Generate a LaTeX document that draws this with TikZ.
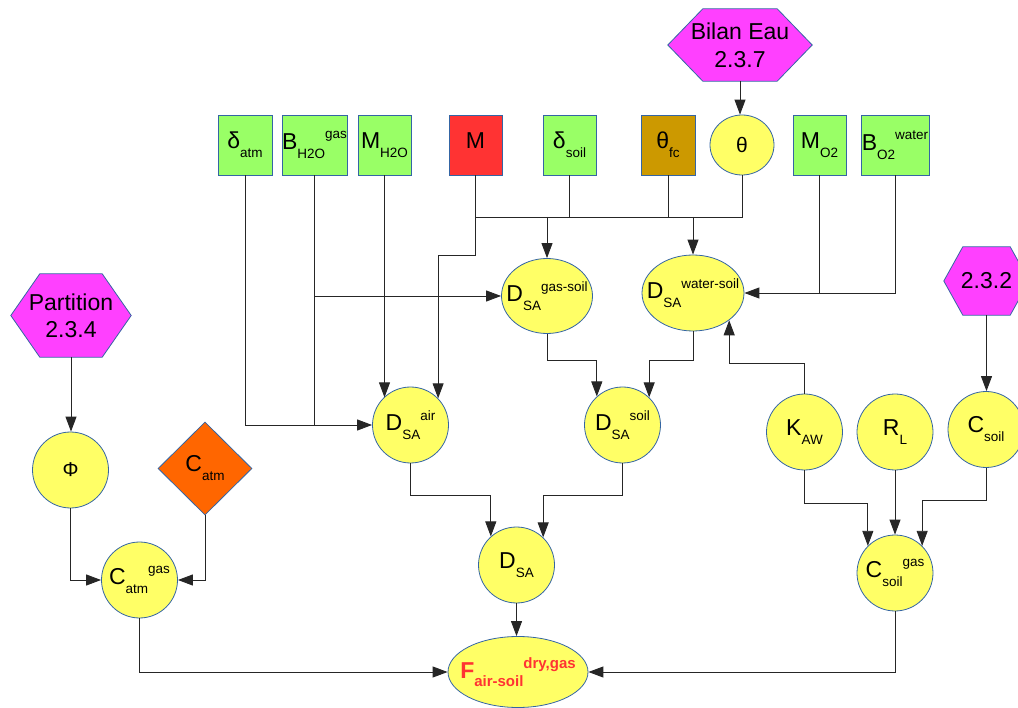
\documentclass[tikz,border=0pt]{standalone}
\usepackage{fontspec}
\setmainfont{Liberation Sans}
\usetikzlibrary{arrows.meta,shapes.geometric,backgrounds,calc}
\definecolor{cgreen}{HTML}{99FF66}
\definecolor{cred}{HTML}{FF3333}
\definecolor{cfc}{HTML}{CC9900}
\definecolor{cyellow}{HTML}{FFFF66}
\definecolor{cmag}{HTML}{FF40FF}
\definecolor{corange}{HTML}{FF6600}
\definecolor{cborder}{HTML}{3465A4}
\definecolor{ftext}{HTML}{FF3333}
\newcommand\symb[3]{\fontsize{23}{26}\selectfont #1\raisebox{-9pt}{\fontsize{13.5}{15}\selectfont #2}\raisebox{10.5pt}{\fontsize{13.5}{15}\selectfont #3}}
\newcommand\flabel{\color{ftext}\bfseries\fontsize{23}{26}\selectfont F\raisebox{-8pt}{\fontsize{15}{17}\selectfont air-soil}\raisebox{10pt}{\fontsize{15}{17}\selectfont dry,gas}}
\begin{document}
\begin{tikzpicture}[x=1pt,y=-1pt,
  sqbox/.style={draw=cborder, line width=0.8pt, minimum width=#1, minimum height=60, inner sep=0pt},
  circ/.style={circle, draw=cborder, fill=cyellow, line width=0.8pt, minimum size=76, inner sep=0pt},
  ell/.style 2 args={ellipse, draw=cborder, fill=cyellow, line width=0.8pt, minimum width=#1, minimum height=#2, inner sep=0pt},
  lab/.style={label={[inner sep=0pt]center:{#1}}},
  hexnode/.style 2 args={minimum width=#1, minimum height=#2, inner sep=0pt, align=center},
  hexfill/.style={fill=cmag, draw=cborder, line width=0.8pt},
  ln/.style={line width=0.9pt, draw=black!85},
  arr/.style={ln, -{Triangle[length=15pt,width=11pt]}}
]
\useasboundingbox (0,0) rectangle (1018,708);

% top row
\node[sqbox=54, fill=cgreen, lab={\symb{δ}{atm}{}}] (datm) at (245,145) {};
\node[sqbox=65, fill=cgreen, lab={\symb{B}{H2O}{gas}}] (bh2o) at (314.5,145) {};
\node[sqbox=53, fill=cgreen, lab={\symb{M}{H2O}{}}] (mh2o) at (384.5,145) {};
\node[sqbox=53, fill=cred, lab={\symb{M}{}{}}] (mred) at (475.5,145) {};
\node[sqbox=53, fill=cgreen, lab={\symb{δ}{soil}{}}] (dsoil) at (569.5,145) {};
\node[sqbox=54, fill=cfc, lab={\symb{θ}{fc}{}}] (thfc) at (668,145) {};
\node[ell={64}{60}, lab={\fontsize{21}{24}\selectfont θ}] (theta) at (742,145) {};
\node[sqbox=53, fill=cgreen, lab={\symb{M}{O2}{}}] (mo2) at (819.5,145) {};
\node[sqbox=68, fill=cgreen, lab={\symb{B}{O2}{water}}] (bo2) at (895,145) {};

% hexagons
\node[hexnode={144}{72}, font=\fontsize{23}{28}\selectfont] (bilan) at (740,45) {Bilan Eau\\2.3.7};
\node[hexnode={120}{83}, font=\fontsize{23}{27}\selectfont] (part) at (71,315.5) {Partition\\2.3.4};
\node[hexnode={85}{68}, font=\fontsize{23}{27}\selectfont] (h232) at (986.5,281) {2.3.2};
\begin{scope}[on background layer]
\filldraw[hexfill] (bilan.west) -- ([xshift=35pt]bilan.north west) -- ([xshift=-35pt]bilan.north east) -- (bilan.east) -- ([xshift=-35pt]bilan.south east) -- ([xshift=35pt]bilan.south west) -- cycle;
\filldraw[hexfill] (part.west) -- ([xshift=29pt]part.north west) -- ([xshift=-29pt]part.north east) -- (part.east) -- ([xshift=-29pt]part.south east) -- ([xshift=29pt]part.south west) -- cycle;
\filldraw[hexfill] (h232.west) -- ([xshift=19pt]h232.north west) -- ([xshift=-19pt]h232.north east) -- (h232.east) -- ([xshift=-19pt]h232.south east) -- ([xshift=19pt]h232.south west) -- cycle;
\end{scope}

% middle
\node[ell={91}{75}, lab={\symb{D}{SA}{gas-soil}}] (dgs) at (547,296) {};
\node[ell={102}{76}, lab={\symb{D}{SA}{water-soil}}] (dws) at (693,293) {};
\node[circ, lab={\symb{D}{SA}{air}}] (dair) at (410.5,425) {};
\node[circ, lab={\symb{D}{SA}{soil}}] (dsoilc) at (622.5,425) {};
\node[circ, lab={\symb{D}{SA}{}}] (dsa) at (516.5,565) {};
\node[ell={140}{71}, lab={\flabel}] (F) at (518,672) {};

% left
\node[circ, lab={\fontsize{20}{24}\selectfont Φ}] (phi) at (70.5,470) {};
\node[diamond, draw=cborder, fill=corange, line width=0.8pt, minimum width=94, minimum height=93, inner sep=0pt, lab={\symb{C}{atm}{}}] (catm) at (205,468.5) {};
\node[circ, lab={\symb{C}{atm}{gas}}] (catmg) at (139.5,580) {};

% right
\node[circ, lab={\symb{K}{AW}{}}] (kaw) at (804.5,432) {};
\node[circ, lab={\symb{R}{L}{}}] (rl) at (895,432) {};
\node[circ, lab={\symb{C}{soil}{}}] (csoil) at (986,429.5) {};
\node[circ, lab={\symb{C}{soil}{gas}}] (csg) at (895,573) {};

% routing levels
\coordinate (ybar) at (0,217);
\coordinate (ym) at (0,255);
\coordinate (ymid) at (0,360);
\coordinate (yk) at (0,363);
\coordinate (yl2) at (0,495);
\coordinate (yl3) at (0,503);
\coordinate (yl4) at (0,500);

% connectors
\draw[arr] (bilan.south) -- (bilan.south |- theta.north);
\draw[arr] (datm.south) |- (dair.west);
\draw[ln] (bh2o.south) -- (bh2o.south |- dair.west);
\draw[arr] (bh2o.south |- dgs.west) -- (dgs.west);
\draw[arr] (mh2o.south) -- (mh2o.south |- dair.134);
\draw[ln] (mred.south) -- (mred.south |- ybar) -| (theta.south);
\draw[ln] (dsoil.south) -- (dsoil.south |- ybar);
\draw[ln] (thfc.south) -- (thfc.south |- ybar);
\draw[arr] (dgs.north |- ybar) -- (dgs.north);
\draw[arr] (dws.north |- ybar) -- (dws.north);
\draw[arr] (mred.south |- ybar) -- (mred.south |- ym) -| (dair.44);
\draw[arr] (bo2.south) |- (dws.east);
\draw[ln] (mo2.south) -- (mo2.south |- dws.east);
\draw[arr] (dgs.south) -- (dgs.south |- ymid) -| (dsoilc.132);
\draw[arr] (dws.south) -- (dws.south |- ymid) -| (dsoilc.46);
\draw[arr] (kaw.north) -- (kaw.north |- yk) -| (dws.-37);
\draw[arr] (dair.south) -- (dair.south |- yl2) -| (dsa.132);
\draw[arr] (dsoilc.south) -- (dsoilc.south |- yl2) -| (dsa.46);
\draw[arr] (dsa.south) -- (dsa.south |- F.north);
\draw[arr] (part.south) -- (part.south |- phi.north);
\draw[arr] (phi.south) |- (catmg.west);
\draw[arr] (catm.south) |- (catmg.east);
\draw[arr] (catmg.south) |- (F.west);
\draw[arr] (h232.south) -- (h232.south |- csoil.north);
\draw[arr] (kaw.south) -- (kaw.south |- yl3) -| (csg.135);
\draw[arr] (rl.south) -- (rl.south |- csg.north);
\draw[arr] (csoil.south) -- (csoil.south |- yl4) -| (csg.45);
\draw[arr] (csg.south) |- (F.east);
\end{tikzpicture}
\end{document}
